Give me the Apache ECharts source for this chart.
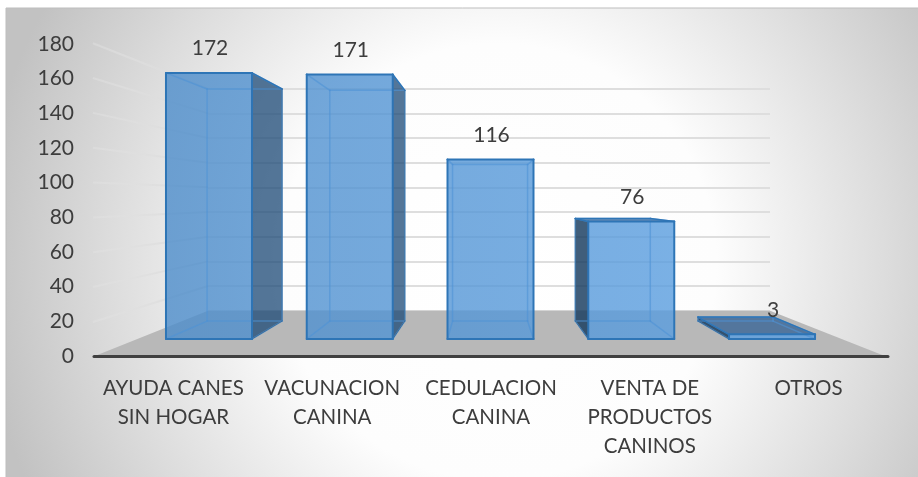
<!DOCTYPE html>
<html>
<head>
<meta charset="utf-8">
<style>
  html, body { margin: 0; padding: 0; background: #fff; }
  #main { width: 918px; height: 477px; }
</style>
<script src="https://cdn.jsdelivr.net/npm/echarts@6/dist/echarts.min.js"></script>
</head>
<body>
<div id="main"></div>
<script>
const categories = ["AYUDA CANES\nSIN HOGAR", "VACUNACION\nCANINA", "CEDULACION\nCANINA", "VENTA DE\nPRODUCTOS\nCANINOS", "OTROS"];
const values = [172, 171, 116, 76, 3];
const ticks = [20, 40, 60, 80, 100, 120, 140, 160, 180];

const textColor = "#3d3d3d";
const fontName = "Lato";

// 3D look: everything shrinks toward this point going back in depth
const vanish = [487, 199];
const barDepth = 0.872;
const wallDepth = 0.708;
const barShare = 0.611;

function toBack(p, s) {
  return [vanish[0] + (p[0] - vanish[0]) * s, vanish[1] + (p[1] - vanish[1]) * s];
}
function toFront(p, s) {
  return [vanish[0] + (p[0] - vanish[0]) / s, vanish[1] + (p[1] - vanish[1]) / s];
}
function face(points, fill) {
  return { type: "polygon", shape: { points: points }, style: { fill: fill }, silent: true };
}
function edge(a, b, color, width) {
  return {
    type: "line",
    shape: { x1: a[0], y1: a[1], x2: b[0], y2: b[1] },
    style: { stroke: color, lineWidth: width, lineCap: "round" },
    silent: true
  };
}

function renderFloor(params, api) {
  const bl = api.coord([0, 0]);
  const br = api.coord([categories.length - 1, 0]);
  const size = api.size([1, 0])[0] / 2;
  bl[0] -= size;
  br[0] += size;
  return face([bl, br, toFront(br, wallDepth), toFront(bl, wallDepth)], "#b8b8b8");
}

function renderWallLine(params, api) {
  const back = api.coord([0, api.value(1)]);
  back[0] -= api.size([1, 0])[0] / 2;
  const front = toFront(back, wallDepth);
  return {
    type: "line",
    shape: { x1: back[0], y1: back[1], x2: front[0], y2: front[1] },
    style: {
      stroke: new echarts.graphic.LinearGradient(front[0], 0, back[0], 0, [
        { offset: 0, color: "rgba(226,226,226,0.45)" },
        { offset: 1, color: "#dadada" }
      ], true),
      lineWidth: 2
    },
    silent: true
  };
}

function renderBar(params, api) {
  const top = api.coord([api.value(0), api.value(1)]);
  const base = api.coord([api.value(0), 0]);
  const w = api.size([1, 0])[0] * barShare;
  const ftl = [top[0] - w / 2, top[1]];
  const ftr = [top[0] + w / 2, top[1]];
  const fbl = [top[0] - w / 2, base[1]];
  const fbr = [top[0] + w / 2, base[1]];
  const btl = toBack(ftl, barDepth);
  const btr = toBack(ftr, barDepth);
  const bbl = toBack(fbl, barDepth);
  const bbr = toBack(fbr, barDepth);

  const line = "#2e75b6";
  const inner = "rgba(78,146,214,0.6)";
  const sideLine = "#3a6f9f";
  const frontFill = new echarts.graphic.LinearGradient(150, 0, 700, 0, [
    { offset: 0, color: "rgba(76,140,202,0.8)" },
    { offset: 1, color: "rgba(90,158,224,0.8)" }
  ], true);
  const children = [];

  if (btl[0] < ftl[0]) {
    children.push(face([ftl, fbl, bbl, btl], "rgba(22,58,94,0.82)"));
  }
  if (btr[0] > ftr[0]) {
    children.push(face([ftr, fbr, bbr, btr], "rgba(30,75,120,0.76)"));
  }
  if (btl[1] < ftl[1]) {
    children.push(face([ftl, ftr, btr, btl], "rgba(40,90,145,0.7)"));
  }
  children.push(face([ftl, ftr, fbr, fbl], frontFill));

  children.push(
    edge(btl, btr, inner, 1.5),
    edge(btr, bbr, inner, 1.5),
    edge(bbr, bbl, inner, 1.5),
    edge(bbl, btl, inner, 1.5),
    edge(ftl, btl, inner, 1.5),
    edge(ftr, btr, inner, 1.5),
    edge(fbl, bbl, inner, 1.5),
    edge(fbr, bbr, inner, 1.5)
  );
  if (btl[0] < ftl[0]) {
    children.push(edge(ftl, btl, line, 1.5), edge(btl, bbl, sideLine, 1), edge(bbl, fbl, sideLine, 1));
  }
  if (btr[0] > ftr[0]) {
    children.push(edge(ftr, btr, line, 1.5), edge(btr, bbr, sideLine, 1), edge(bbr, fbr, sideLine, 1));
  }
  if (btl[1] < ftl[1]) {
    children.push(edge(btl, btr, line, 1.5), edge(btr, ftr, line, 1.5));
  }
  children.push(
    edge(ftl, ftr, line, 2),
    edge(ftr, fbr, line, 2),
    edge(fbr, fbl, line, 2),
    edge(fbl, ftl, line, 2)
  );
  children.push({
    type: "text",
    silent: true,
    style: {
      text: String(api.value(1)),
      x: top[0] + 1,
      y: top[1] - 24.5,
      align: "center",
      verticalAlign: "middle",
      fill: textColor,
      fontSize: 21,
      fontFamily: fontName
    }
  });
  return { type: "group", children: children };
}

const chart = echarts.init(document.getElementById("main"), null, { renderer: "canvas" });

const option = {
  animation: false,
  graphic: [
    {
      type: "rect",
      z: -100,
      silent: true,
      shape: { x: 6, y: 8, width: 914, height: 471 },
      style: {
        fill: new echarts.graphic.RadialGradient(498, 262, 520, [
          { offset: 0, color: "#ffffff" },
          { offset: 0.42, color: "#fdfdfd" },
          { offset: 0.75, color: "#dcdcdc" },
          { offset: 1, color: "#c2c2c2" }
        ], true),
        stroke: "#bdbdbd",
        lineWidth: 1
      }
    }
  ],
  grid: [
    { left: 94, width: 794, top: 44, height: 312 },
    { left: 208, width: 562, top: 88.7, height: 222 },
    { left: 138.6, width: 703.8, top: 60.5, height: 278.5 }
  ],
  xAxis: [
    {
      gridIndex: 0,
      type: "category",
      data: categories,
      z: 10,
      axisTick: { show: false },
      axisLine: { lineStyle: { color: "#404040", width: 3, cap: "round" } },
      axisLabel: { color: textColor, fontSize: 20.5, fontFamily: fontName, lineHeight: 29, margin: 18, interval: 0 }
    },
    { gridIndex: 1, type: "category", data: categories, show: false },
    { gridIndex: 2, type: "category", data: categories, show: false }
  ],
  yAxis: [
    {
      gridIndex: 0,
      type: "value",
      min: 0,
      max: 180,
      interval: 20,
      axisLine: { show: false },
      axisTick: { show: false },
      splitLine: { show: false },
      axisLabel: { color: textColor, fontSize: 21, fontFamily: fontName, margin: 20, padding: [5, 0, 0, 0] }
    },
    {
      gridIndex: 1,
      type: "value",
      min: 0,
      max: 180,
      interval: 20,
      axisLine: { show: false },
      axisTick: { show: false },
      axisLabel: { show: false },
      splitLine: { show: true, lineStyle: { color: "#dedede", width: 2 } }
    },
    { gridIndex: 2, type: "value", min: 0, max: 180, show: false }
  ],
  series: [
    {
      type: "custom",
      xAxisIndex: 1,
      yAxisIndex: 1,
      z: 1,
      clip: false,
      silent: true,
      data: ticks.map(t => [0, t]),
      renderItem: renderWallLine
    },
    {
      type: "custom",
      xAxisIndex: 1,
      yAxisIndex: 1,
      z: 2,
      clip: false,
      silent: true,
      data: [[0, 0]],
      renderItem: renderFloor
    },
    {
      type: "custom",
      xAxisIndex: 2,
      yAxisIndex: 2,
      z: 3,
      clip: false,
      silent: true,
      data: values.map((v, i) => [i, v]),
      renderItem: renderBar
    }
  ]
};

chart.setOption(option);
</script>
</body>
</html>
